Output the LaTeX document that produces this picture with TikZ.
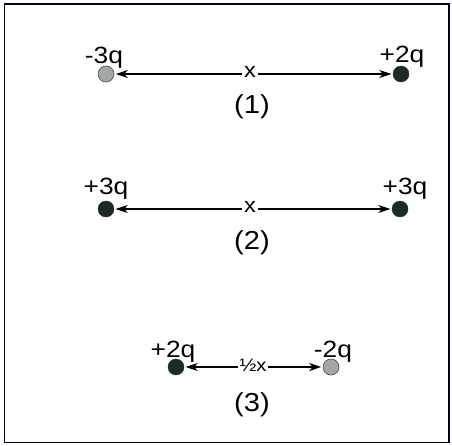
\documentclass[tikz,border=0pt]{standalone}
\usepackage{fontspec}
\setmainfont{Liberation Sans}
\newfontfamily\labfont[FakeStretch=1.12]{Liberation Sans}
\usetikzlibrary{arrows.meta}
\definecolor{darkq}{HTML}{1C2B29}
\definecolor{grayq}{HTML}{A3A8A4}
\begin{document}
\begin{tikzpicture}[x=1pt,y=-1pt,
  darkc/.style={circle,fill=darkq,draw=darkq,minimum size=16pt,inner sep=0pt},
  grayc/.style={circle,fill=grayq,draw=gray!60!black,line width=0.6pt,minimum size=16pt,inner sep=0pt},
  qlab/.style={font=\labfont\fontsize{23.5}{24}\selectfont,inner sep=0pt,anchor=base},
  numlab/.style={font=\labfont\fontsize{26}{27}\selectfont,inner sep=0pt},
  xlab/.style={font=\labfont\fontsize{21}{21}\selectfont,inner sep=2pt,fill=white},
  conn/.style={line width=1.2pt,{Stealth[length=12pt,width=8pt,inset=3.5pt]}-{Stealth[length=12pt,width=8pt,inset=3.5pt]},shorten <=1.5pt,shorten >=1.5pt}]
\useasboundingbox (0,0) rectangle (452,446);
\draw[line width=1.6pt,black!85!blue] (4.5,4) rectangle (449,442.5);
% row 1
\node[grayc] (a1) at (106,74) {};
\node[darkc] (b1) at (401,74) {};
\node[qlab] (la1) at (104,63.5) {-3q};
\node[qlab] (lb1) at (402,63) {+2q};
\draw[conn] (a1) -- (b1);
\node[xlab] (x1) at (250,72) {x};
\node[numlab] (n1) at (252,107) {(1)};
% row 2
\node[darkc] (a2) at (106,209) {};
\node[darkc] (b2) at (400,209) {};
\node[qlab] (la2) at (106,195) {+3q};
\node[qlab] (lb2) at (405,195) {+3q};
\draw[conn] (a2) -- (b2);
\node[xlab] (x2) at (250,207) {x};
\node[numlab] (n2) at (252,243) {(2)};
% row 3
\node[darkc] (a3) at (176,367) {};
\node[grayc] (b3) at (331,367) {};
\node[qlab] (la3) at (173,357) {+2q};
\node[qlab] (lb3) at (333,357) {-2q};
\draw[conn] (a3) -- (b3);
\node[xlab,font=\labfont\fontsize{18}{18}\selectfont] (x3) at (253,365) {½x};
\node[numlab] (n3) at (252,405) {(3)};
\end{tikzpicture}
\end{document}
